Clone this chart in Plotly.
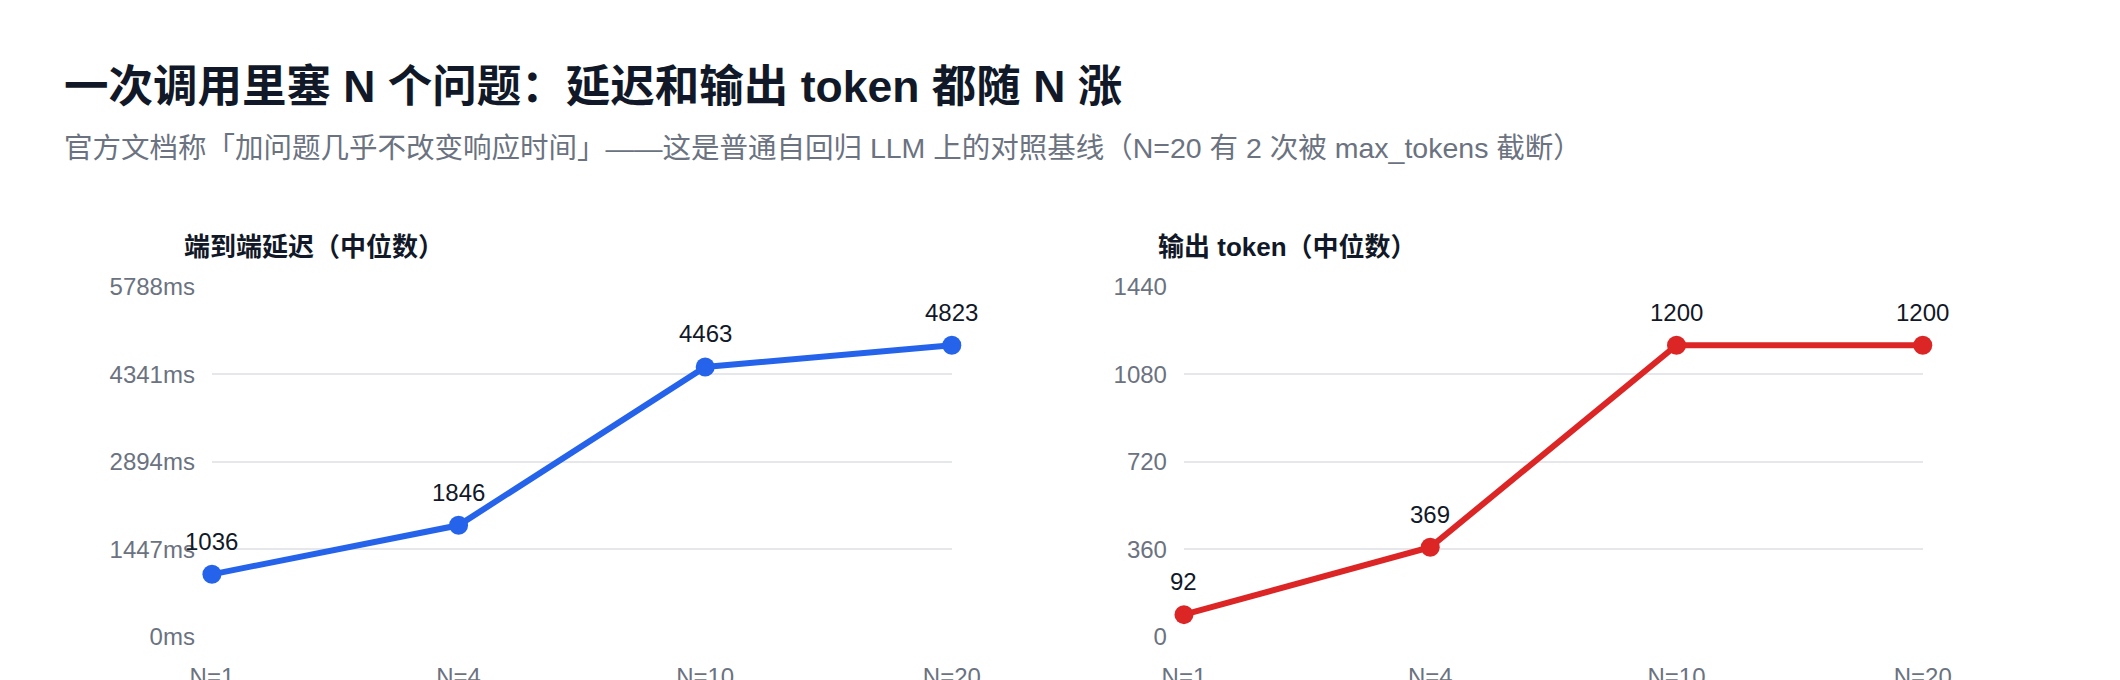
import plotly.graph_objects as go

# data
n_labels = ["N=1", "N=4", "N=10", "N=20"]
latency_ms = [1036, 1846, 4463, 4823]
output_tokens = [92, 369, 1200, 1200]
latency_ticks = [0, 1447, 2894, 4341, 5788]
token_ticks = [0, 360, 720, 1080, 1440]

title = "一次调用里塞 N 个问题：延迟和输出 token 都随 N 涨"
subtitle = "官方文档称「加问题几乎不改变响应时间」——这是普通自回归 LLM 上的对照基线（N=20 有 2 次被 max_tokens 截断）"
left_title = "端到端延迟（中位数）"
right_title = "输出 token（中位数）"

FONT = "Liberation Sans, Noto Sans CJK SC, sans-serif"
BLUE = "#2563eb"
RED = "#dc2626"
GRID = "#e5e7eb"
TICK = "#6b7280"
INK = "#111827"

fig = go.Figure()

panels = [("x", "y", latency_ms, BLUE), ("x2", "y2", output_tokens, RED)]
for xa, ya, vals, col in panels:
    fig.add_trace(go.Scatter(
        x=n_labels, y=vals, mode="lines+markers",
        line=dict(color=col, width=6), marker=dict(color=col, size=19),
        cliponaxis=False, xaxis=xa, yaxis=ya, showlegend=False,
    ))
    # value labels above each point
    for lab, v in zip(n_labels, vals):
        fig.add_annotation(x=lab, y=v, xref=xa, yref=ya, text=str(v),
                           showarrow=False, yshift=33,
                           font=dict(size=24, color=INK, family=FONT))

ydom = [0.075, 0.59]
xcommon = dict(type="category", range=[0, 3], showgrid=False, zeroline=False,
               showline=False, ticks="", ticklabelstandoff=23, automargin=False,
               tickfont=dict(size=24, color=TICK, family=FONT), fixedrange=True)
ycommon = dict(showgrid=True, gridcolor=GRID, gridwidth=2, zeroline=False,
               showline=False, ticks="", ticklabelstandoff=16, automargin=False,
               tickfont=dict(size=24, color=TICK, family=FONT), fixedrange=True)

fig.update_layout(
    width=2120, height=680,
    margin=dict(l=0, r=0, t=0, b=0),
    paper_bgcolor="white", plot_bgcolor="white",
    font=dict(family=FONT),
    xaxis=dict(domain=[0.0962, 0.4452], anchor="y", **xcommon),
    xaxis2=dict(domain=[0.5547, 0.9032], anchor="y2", **xcommon),
    yaxis=dict(domain=ydom, anchor="x", range=[0, 5788], tickvals=latency_ticks,
               ticktext=[f"{v}ms" for v in latency_ticks], **ycommon),
    yaxis2=dict(domain=ydom, anchor="x2", range=[0, 1440], tickvals=token_ticks,
                ticktext=[str(v) for v in token_ticks], **ycommon),
)

fig.add_annotation(text=f"<b>{title}</b>", xref="paper", yref="paper", x=0.0255, y=0.884,
                   xanchor="left", yanchor="middle", showarrow=False,
                   font=dict(size=44.5, color=INK, family=FONT))
fig.add_annotation(text=subtitle, xref="paper", yref="paper", x=0.0255, y=0.794,
                   xanchor="left", yanchor="middle", showarrow=False,
                   font=dict(size=28.5, color=TICK, family=FONT))
fig.add_annotation(text=f"<b>{left_title}</b>", xref="paper", yref="paper", x=0.0821, y=0.648,
                   xanchor="left", yanchor="middle", showarrow=False,
                   font=dict(size=26, color=INK, family=FONT))
fig.add_annotation(text=f"<b>{right_title}</b>", xref="paper", yref="paper", x=0.5413, y=0.648,
                   xanchor="left", yanchor="middle", showarrow=False,
                   font=dict(size=26, color=INK, family=FONT))

fig.write_html("out.html", config={"displayModeBar": False})
